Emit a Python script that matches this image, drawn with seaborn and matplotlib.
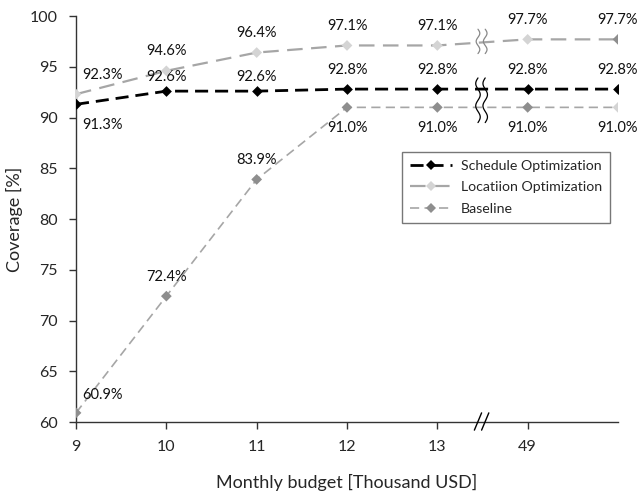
import numpy as np
import pandas as pd
import matplotlib.pyplot as plt
import seaborn as sns
from matplotlib.lines import Line2D

# budget steps (categorical, axis is broken between 13 and 49)
budget_labels = ["9", "10", "11", "12", "13", "49", ""]
schedule_opt = [91.3, 92.6, 92.6, 92.8, 92.8, 92.8, 92.8]
location_opt = [92.3, 94.6, 96.4, 97.1, 97.1, 97.7, 97.7]
baseline = [60.9, 72.4, 83.9, 91.0, 91.0, 91.0, 91.0]

# marker shades per point (the last two points swap shades in the original)
location_marker = ["#d4d4d4"] * 6 + ["#8e8e8e"]
baseline_marker = ["#8e8e8e"] * 6 + ["#d4d4d4"]

sns.set_style("ticks")
plt.rcParams["font.family"] = ["Lato", "DejaVu Sans"]

pos = np.arange(len(budget_labels))
df = pd.DataFrame({"pos": pos, "Schedule Optimization": schedule_opt,
                   "Locatiion Optimization": location_opt, "Baseline": baseline})

fig = plt.figure(figsize=(6.41, 4.93), dpi=100)
ax = fig.add_axes([0.1186, 0.144, 0.8455, 0.8235])

sns.lineplot(data=df, x="pos", y="Baseline", ax=ax, color="#a6a6a6", lw=1.2,
             linestyle=(0, (5.5, 3.2)), zorder=2)
sns.lineplot(data=df, x="pos", y="Locatiion Optimization", ax=ax, color="#a6a6a6", lw=1.6,
             linestyle=(0, (7, 3.8)), zorder=2)
sns.lineplot(data=df, x="pos", y="Schedule Optimization", ax=ax, color="black", lw=2.0,
             linestyle=(0, (4.7, 2.5)), zorder=3)

sns.scatterplot(x=pos, y=baseline, hue=baseline_marker, palette={c: c for c in baseline_marker},
                marker="D", s=30, linewidth=0, legend=False, ax=ax, zorder=4)
sns.scatterplot(x=pos, y=location_opt, hue=location_marker, palette={c: c for c in location_marker},
                marker="D", s=30, linewidth=0, legend=False, ax=ax, zorder=4)
sns.scatterplot(x=pos, y=schedule_opt, color="black", marker="D", s=30, linewidth=0,
                legend=False, ax=ax, zorder=5)

# value labels
def label(vals, offsets):
    for i, (v, off) in enumerate(zip(vals, offsets)):
        ax.annotate(f"{v:.1f}%", (pos[i], v), xytext=off, textcoords="offset points",
                    ha="center", va="center", fontsize=10.5, color="#111111")

label(schedule_opt, [(19, -15), (0, 10)] + [(0, 10)] + [(0, 14)] * 4)
label(location_opt, [(19, 13.5)] + [(0, 14)] * 6)
label(baseline, [(19, 13)] + [(0, 14)] * 2 + [(0, -15)] * 4)

# break marks on the lines
t = np.linspace(0, 1, 60)
for x0 in (4.45, 4.53):
    ax.plot(x0 + 0.025 * np.sin(t * 4 * np.pi), 89.5 + 4.4 * t, color="black", lw=0.9, zorder=6)
    ax.plot(x0 + 0.02 * np.sin(t * 3 * np.pi), 96.3 + 2.4 * t, color="#888888", lw=0.9, zorder=6)

# break mark on the x axis
for x0 in (4.45, 4.53):
    ax.plot([x0 - 0.04, x0 + 0.04], [59.2, 60.9], color="black", lw=1.0, clip_on=False, zorder=6)

ax.set_xlim(0, 6)
ax.set_ylim(60, 100)
ax.set_xticks(pos[:6])
ax.set_xticklabels(budget_labels[:6])
ax.set_yticks(np.arange(60, 101, 5))
ax.tick_params(axis="both", labelsize=11.5, length=5, width=1, color="#333333", pad=8)
ax.set_xlabel("Monthly budget [Thousand USD]", fontsize=13, labelpad=14)
ax.set_ylabel("Coverage [%]", fontsize=13, labelpad=5)
sns.despine(ax=ax)
for s in ("left", "bottom"):
    ax.spines[s].set_color("#333333")
    ax.spines[s].set_linewidth(1.0)

handles = [
    Line2D([], [], color="black", lw=2.0, linestyle=(0, (4.7, 2.5)), marker="D",
           markersize=5.3, markeredgewidth=0),
    Line2D([], [], color="#a6a6a6", lw=1.6, linestyle=(0, (7, 3.8)), marker="D",
           markersize=5.3, markerfacecolor="#d4d4d4", markeredgewidth=0),
    Line2D([], [], color="#a6a6a6", lw=1.2, linestyle=(0, (5.5, 3.2)), marker="D",
           markersize=5.3, markerfacecolor="#8e8e8e", markeredgewidth=0),
]
leg = ax.legend(handles, ["Schedule Optimization", "Locatiion Optimization", "Baseline"],
                loc="upper right", bbox_to_anchor=(0.998, 0.683), fontsize=10.2,
                frameon=True, fancybox=False, edgecolor="#555555", handlelength=3.0,
                borderpad=0.55, labelspacing=0.68, handletextpad=0.6)
leg.get_frame().set_linewidth(1.0)

fig.savefig("out.png", dpi=100)
